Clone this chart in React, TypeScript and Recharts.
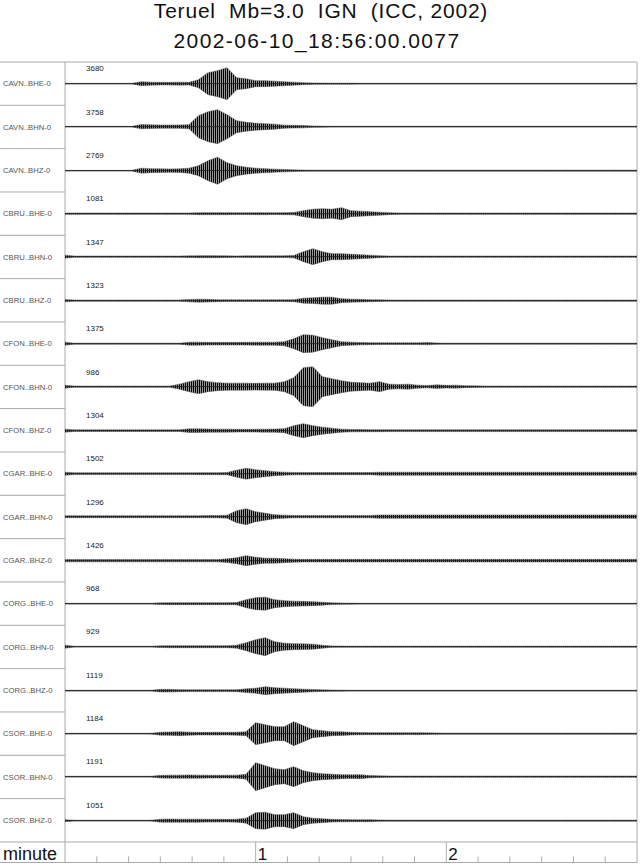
import React from "react";
import { Area, ComposedChart, ReferenceLine, XAxis, YAxis } from "recharts";

// time grid in seconds (3 s step)
const seconds = [
  0, 3, 6, 9, 12, 15, 18, 21, 24, 27, 30, 33, 36, 39, 42, 45, 48, 51, 54, 57, 60,
  63, 66, 69, 72, 75, 78, 81, 84, 87, 90, 93, 96, 99, 102, 105, 108, 111, 114, 117, 120,
  123, 126, 129, 132, 135, 138, 141, 144, 147, 150, 153, 156, 159, 162, 165, 168, 171, 174, 177, 180,
];

const channels = [
  "CAVN..BHE-0", "CAVN..BHN-0", "CAVN..BHZ-0",
  "CBRU..BHE-0", "CBRU..BHN-0", "CBRU..BHZ-0",
  "CFON..BHE-0", "CFON..BHN-0", "CFON..BHZ-0",
  "CGAR..BHE-0", "CGAR..BHN-0", "CGAR..BHZ-0",
  "CORG..BHE-0", "CORG..BHN-0", "CORG..BHZ-0",
  "CSOR..BHE-0", "CSOR..BHN-0", "CSOR..BHZ-0",
];

const peakCounts = [3680, 3758, 2769, 1081, 1347, 1323, 1375, 986, 1304, 1502, 1296, 1426, 968, 929, 1119, 1184, 1191, 1051];

// envelope half-amplitude of each trace (px of a 43px row)
const cavnBhe = [
  0.3, 0.3, 0.3, 0.3, 0.3, 0.3, 0.3, 0.3, 2, 1.5,
  1.3, 1.3, 1.5, 1.3, 4, 11, 13, 16, 6, 5,
  3, 3, 2.5, 2, 1.5, 1, 0.7, 0.6, 0.5, 0.5,
  0.5, 0.4, 0.4, 0.4, 0.4, 0.4, 0.4, 0.4, 0.4, 0.4,
  0.4, 0.4, 0.4, 0.4, 0.4, 0.4, 0.4, 0.4, 0.4, 0.4,
  0.4, 0.4, 0.4, 0.4, 0.4, 0.4, 0.4, 0.4, 0.4, 0.4, 0.4,
];
const cavnBhn = [
  0.3, 0.3, 0.3, 0.3, 0.3, 0.3, 0.3, 0.3, 2.2, 1.8,
  1.6, 1.6, 1.7, 2, 11, 15, 17, 12, 6, 4.5,
  3.5, 3, 2.5, 1.5, 1.3, 1.2, 0.7, 0.5, 0.4, 0.4,
  0.4, 0.4, 0.4, 0.4, 0.4, 0.4, 0.4, 0.4, 0.4, 0.4,
  0.4, 0.4, 0.4, 0.4, 0.4, 0.4, 0.4, 0.4, 0.4, 0.4,
  0.4, 0.4, 0.4, 0.4, 0.4, 0.4, 0.4, 0.4, 0.4, 0.4, 0.4,
];
const cavnBhz = [
  0.3, 0.3, 0.3, 0.3, 0.3, 0.3, 0.3, 0.3, 2.5, 2,
  1.8, 1.7, 1.8, 2.5, 5, 10, 13.5, 8, 5, 3.5,
  2.5, 2, 1.5, 1.2, 0.8, 0.6, 0.5, 0.5, 0.5, 0.5,
  0.5, 0.5, 0.5, 0.5, 0.5, 0.5, 0.5, 0.5, 0.5, 0.5,
  0.5, 0.5, 0.5, 0.5, 0.5, 0.5, 0.5, 0.5, 0.5, 0.5,
  0.5, 0.5, 0.5, 0.5, 0.5, 0.5, 0.5, 0.5, 0.5, 0.5, 0.5,
];
const cbruBhe = [
  0.7, 0.7, 0.7, 0.7, 0.7, 0.7, 0.7, 0.7, 0.7, 0.7,
  0.7, 0.7, 0.7, 0.7, 1, 1, 1, 1, 0.9, 0.9,
  1, 1, 0.9, 1, 1.2, 3, 4.5, 5, 4.5, 6,
  3, 2.5, 2, 1.5, 1, 0.7, 0.7, 0.7, 0.7, 0.7,
  0.7, 0.7, 0.7, 0.7, 0.7, 0.7, 0.7, 0.7, 0.7, 0.7,
  0.7, 0.7, 0.7, 0.7, 0.7, 0.7, 0.7, 0.7, 0.7, 0.7, 0.7,
];
const cbruBhn = [
  1.5, 0.6, 0.6, 0.6, 0.6, 0.6, 0.6, 0.6, 0.6, 0.6,
  0.6, 0.6, 0.6, 0.8, 1, 1, 1, 0.8, 0.7, 0.8,
  0.8, 0.8, 0.8, 0.9, 1.2, 5, 8, 5, 3, 3,
  2.5, 2, 1.5, 1, 0.6, 0.6, 0.6, 0.6, 0.6, 0.6,
  0.6, 0.6, 0.6, 0.6, 0.6, 0.6, 0.6, 0.6, 0.6, 0.6,
  0.6, 0.6, 0.6, 0.6, 0.6, 0.6, 0.6, 0.6, 0.6, 0.6, 0.6,
];
const cbruBhz = [
  1.2, 0.6, 0.6, 0.6, 0.6, 0.6, 0.6, 0.6, 0.6, 0.6,
  0.6, 0.6, 0.6, 1.2, 1.5, 1.3, 1, 0.9, 0.8, 0.8,
  0.8, 0.8, 0.8, 0.9, 1, 2.5, 2.8, 3.5, 3.5, 2,
  1.5, 1.3, 1, 0.8, 0.6, 0.6, 0.6, 0.6, 0.6, 0.6,
  0.6, 0.6, 0.6, 0.6, 0.6, 0.6, 0.6, 0.6, 0.6, 0.6,
  0.6, 0.6, 0.6, 0.6, 0.6, 0.6, 0.6, 0.6, 0.6, 0.6, 0.6,
];
const cfonBhe = [
  1.5, 0.5, 0.5, 0.5, 0.5, 0.5, 0.5, 0.5, 0.5, 0.5,
  0.5, 0.5, 0.5, 1.5, 1.5, 1.3, 1.3, 1.3, 1.3, 1.4,
  1.5, 1.5, 1.5, 2, 5, 9, 8.5, 6, 4, 2,
  1.5, 1.2, 1, 0.9, 0.8, 0.8, 0.8, 0.8, 1.2, 0.7,
  0.5, 0.5, 0.5, 0.5, 0.5, 0.5, 0.5, 0.5, 0.5, 0.5,
  0.5, 0.5, 0.5, 0.5, 0.5, 0.5, 0.5, 0.5, 0.5, 0.5, 0.5,
];
const cfonBhn = [
  1.5, 0.6, 0.6, 0.6, 0.6, 0.6, 0.6, 0.6, 0.6, 0.6,
  0.6, 0.6, 2.5, 5, 7, 5, 4, 3.5, 3.5, 3.5,
  3.3, 3.5, 3.5, 5, 9, 19, 20, 10, 8, 6,
  4.5, 4, 3.5, 5, 2.5, 2.2, 2.5, 1.5, 1.2, 1.8,
  1.3, 1.5, 1, 0.8, 0.6, 0.6, 0.6, 0.6, 0.6, 0.6,
  0.6, 0.6, 0.6, 0.6, 0.6, 0.6, 0.6, 0.6, 0.6, 0.6, 0.6,
];
const cfonBhz = [
  1.5, 0.8, 0.8, 0.8, 0.8, 0.8, 0.8, 0.8, 0.8, 0.8,
  0.8, 0.8, 0.8, 1.8, 1.8, 1.6, 1.5, 1.5, 1.4, 1.3,
  1.4, 1.5, 1.6, 2, 5, 7, 5, 3.5, 2.5, 1.5,
  1.2, 1.1, 1, 1, 0.9, 0.9, 0.9, 0.9, 0.9, 0.9,
  0.9, 0.9, 0.9, 0.9, 0.9, 0.9, 0.9, 0.9, 0.9, 0.9,
  0.9, 0.9, 0.9, 0.9, 0.9, 0.9, 0.9, 0.9, 0.9, 0.9, 0.9,
];
const cgarBhe = [
  1.5, 0.9, 0.9, 0.9, 0.9, 0.9, 0.9, 0.9, 0.9, 0.9,
  0.9, 0.9, 0.9, 0.9, 1, 1, 1, 1.2, 3.5, 5.5,
  4, 3, 2, 1.5, 1.2, 1.2, 1.1, 1.1, 1.1, 1.1,
  1.1, 1.1, 1.1, 1.5, 1.5, 1.5, 1.5, 1.5, 1.5, 1.5,
  1.5, 1.5, 1.5, 1.5, 1.5, 1.5, 1.5, 1.5, 1.5, 1.5,
  1.5, 1.5, 1.5, 1.5, 1.5, 1.5, 1.5, 1.5, 1.5, 1.5, 1.5,
];
const cgarBhn = [
  1, 1, 1, 1, 1, 1, 1, 1, 1, 1,
  1, 1, 1, 1, 1, 1.1, 1.2, 1.5, 6, 8,
  5, 3.5, 2, 1.5, 1.2, 1.2, 1.2, 1.2, 1.2, 1.2,
  1.2, 1.2, 1.2, 1.7, 1.7, 1.7, 1.7, 1.7, 1.7, 1.7,
  1.7, 1.7, 1.7, 1.7, 1.7, 1.7, 1.7, 1.7, 1.7, 1.7,
  1.7, 1.7, 1.7, 1.7, 1.7, 1.7, 1.7, 1.7, 1.7, 1.7, 1.7,
];
const cgarBhz = [
  1.2, 1.2, 1.2, 1.2, 1.2, 1.2, 1.2, 1.2, 1.2, 1.2,
  1.2, 1.2, 1.2, 1.2, 1.2, 1.2, 1.2, 1.8, 3, 5,
  3.5, 2.5, 2.5, 2, 1.5, 1.3, 1.3, 1.3, 1.3, 1.3,
  1.3, 1.3, 1.3, 1.3, 1.3, 1.3, 1.3, 1.3, 1.3, 1.3,
  1.3, 1.3, 1.3, 1.3, 1.3, 1.3, 1.3, 1.3, 1.3, 1.3,
  1.3, 1.3, 1.3, 1.3, 1.3, 1.3, 1.3, 1.3, 1.3, 1.3, 1.3,
];
const corgBhe = [
  0.4, 0.4, 0.4, 0.4, 0.4, 0.4, 0.4, 0.4, 0.4, 0.4,
  0.8, 1, 1, 1, 1, 1, 1, 1, 1.2, 4,
  6, 6.5, 4, 3, 2.5, 2.3, 2, 1.5, 0.8, 0.6,
  0.5, 0.4, 0.4, 0.4, 0.4, 0.4, 0.4, 0.4, 0.4, 0.4,
  0.4, 0.4, 0.4, 0.4, 0.4, 0.4, 0.4, 0.4, 0.4, 0.4,
  0.4, 0.4, 0.4, 0.4, 0.4, 0.4, 0.4, 0.4, 0.4, 0.4, 0.4,
];
const corgBhn = [
  1.5, 0.4, 0.4, 0.4, 0.4, 0.4, 0.4, 0.4, 0.4, 0.4,
  0.8, 1, 1, 1, 1, 1, 1, 1, 1.5, 4,
  7, 9, 5, 3.5, 3, 2.8, 2.5, 1.5, 0.7, 0.6,
  0.5, 0.5, 0.5, 0.5, 0.5, 0.5, 0.5, 0.5, 0.5, 0.5,
  0.5, 0.5, 0.5, 0.5, 0.5, 0.5, 0.5, 0.5, 0.5, 0.5,
  0.5, 0.5, 0.5, 0.5, 0.5, 0.5, 0.5, 0.5, 0.5, 0.5, 0.5,
];
const corgBhz = [
  0.4, 0.4, 0.4, 0.4, 0.4, 0.4, 0.4, 0.4, 0.4, 0.4,
  1.3, 1.3, 1, 0.9, 0.9, 0.9, 0.9, 0.9, 1, 1.8,
  2.5, 4, 3, 2.5, 2, 1.5, 1.2, 0.8, 0.6, 0.5,
  0.4, 0.4, 0.4, 0.4, 0.4, 0.4, 0.4, 0.4, 0.4, 0.4,
  0.4, 0.4, 0.4, 0.4, 0.4, 0.4, 0.4, 0.4, 0.4, 0.4,
  0.4, 0.4, 0.4, 0.4, 0.4, 0.4, 0.4, 0.4, 0.4, 0.4, 0.4,
];
const csorBhe = [
  0.4, 0.4, 0.4, 0.4, 0.4, 0.4, 0.4, 0.4, 0.4, 0.4,
  1.5, 1.7, 2, 1.5, 1.3, 1.3, 1.4, 1.3, 1.5, 2,
  11, 9, 7, 7, 12, 8, 4, 3, 2, 1.8,
  1.3, 1.1, 1, 1, 1, 1, 0.9, 1, 0.8, 0.7,
  0.5, 0.5, 0.5, 0.5, 0.5, 0.5, 0.5, 0.5, 0.5, 0.5,
  0.5, 0.5, 0.5, 0.5, 0.5, 0.5, 0.5, 0.5, 0.5, 0.5, 0.5,
];
const csorBhn = [
  0.4, 0.4, 0.4, 0.4, 0.4, 0.4, 0.4, 0.4, 0.4, 0.4,
  1.3, 1.5, 1.5, 1.7, 1.5, 1.4, 1.4, 1.4, 1.5, 2.5,
  14, 11, 8, 7, 10, 6, 4, 3, 2.5, 2,
  1.8, 2, 1.2, 0.8, 0.7, 0.6, 0.6, 0.6, 0.6, 0.6,
  0.6, 0.6, 0.6, 0.6, 0.6, 0.6, 0.6, 0.6, 0.6, 0.6,
  0.6, 0.6, 0.6, 0.6, 0.6, 0.6, 0.6, 0.6, 0.6, 0.6, 0.6,
];
const csorBhz = [
  1, 0.4, 0.4, 0.4, 0.4, 0.4, 0.4, 0.4, 0.4, 0.4,
  1.5, 1.6, 1.5, 1.5, 1.5, 1.4, 1.4, 1.3, 1.5, 2.5,
  8, 8.5, 6, 6, 8, 4, 2.5, 2, 1.3, 1.2,
  1, 1, 1, 0.7, 0.5, 0.5, 0.5, 0.5, 0.5, 0.5,
  0.5, 0.5, 0.5, 0.5, 0.5, 0.5, 0.5, 0.5, 0.5, 0.5,
  0.5, 0.5, 0.5, 0.5, 0.5, 0.5, 0.5, 0.5, 0.5, 0.5, 0.5,
];

const envelopes = [
  cavnBhe, cavnBhn, cavnBhz, cbruBhe, cbruBhn, cbruBhz,
  cfonBhe, cfonBhn, cfonBhz, cgarBhe, cgarBhn, cgarBhz,
  corgBhe, corgBhn, corgBhz, csorBhe, csorBhn, csorBhz,
];

const minorTicks = [10, 20, 30, 40, 50, 70, 80, 90, 100, 110, 130, 140, 150, 160, 170];
const majorTicks = [60, 120];
const majorLabels = ["1", "2"];

const TOP = 62;
const ROW_H = 43.33;
const PLOT_L = 65;
const PLOT_R = 637;
const PLOT_W = PLOT_R - PLOT_L;
const BAND_TOP = 842;
const BAND_H = 20.5;
const HALF = ROW_H / 2;
const FONT = '"Liberation Sans", Arial, Helvetica, sans-serif';
const FRAME = "#aaa";

function Trace({ env, top }: { env: number[]; top: number }) {
  const data = seconds.map((t, i) => ({ t, band: [-env[i], env[i]] }));
  return (
    <div style={{ position: "absolute", left: PLOT_L, top, width: PLOT_W, height: ROW_H }}>
      <ComposedChart width={PLOT_W} height={ROW_H} data={data} margin={{ top: 0, right: 0, bottom: 0, left: 0 }}>
        <XAxis type="number" dataKey="t" domain={[0, 180]} allowDataOverflow hide />
        <YAxis type="number" domain={[-HALF, HALF]} allowDataOverflow hide />
        <ReferenceLine y={0} stroke="#222" strokeWidth={0.9} />
        <Area
          type="linear"
          dataKey="band"
          stroke="#555"
          strokeWidth={0.5}
          fill="url(#wiggle)"
          fillOpacity={1}
          isAnimationActive={false}
        />
      </ComposedChart>
    </div>
  );
}

function TimeAxis() {
  const data = [...minorTicks, ...majorTicks].map((t) => ({ t }));
  return (
    <div style={{ position: "absolute", left: PLOT_L, top: BAND_TOP, width: PLOT_W, height: BAND_H }}>
      <ComposedChart width={PLOT_W} height={BAND_H} data={data} margin={{ top: 0, right: 0, bottom: 0, left: 0 }}>
        <XAxis type="number" dataKey="t" domain={[0, 180]} allowDataOverflow hide />
        <YAxis type="number" domain={[0, 1]} allowDataOverflow hide />
        {minorTicks.map((s) => (
          <ReferenceLine
            key={s}
            segment={[{ x: s, y: 0 }, { x: s, y: 0.3 }]}
            stroke="#999"
            strokeWidth={0.8}
          />
        ))}
        {majorTicks.map((s, i) => (
          <ReferenceLine
            key={s}
            x={s}
            stroke="#999"
            strokeWidth={0.8}
            label={(p: any) => (
              <text
                x={p.viewBox.x + 2}
                y={p.viewBox.y + p.viewBox.height - 3}
                fontSize={17}
                fontFamily={FONT}
                fill="#111"
              >
                {majorLabels[i]}
              </text>
            )}
          />
        ))}
      </ComposedChart>
    </div>
  );
}

export default function App() {
  return (
    <div style={{ position: "absolute", left: 0, top: 0, width: 640, height: 866, background: "#fff", fontFamily: FONT }}>
      <svg width={640} height={866} style={{ position: "absolute", left: 0, top: 0 }}>
        <defs>
          {/* dense vertical hatch that stands in for the oscillating trace inside the envelope */}
          <pattern id="wiggle" width={2} height={4} patternUnits="userSpaceOnUse">
            <rect x={0} y={0} width={1} height={4} fill="#000" />
            <rect x={1} y={0} width={1} height={4} fill="#999" />
          </pattern>
        </defs>
        <text x={321} y={18} textAnchor="middle" fontSize={21} letterSpacing={0.8} fill="#111" style={{ whiteSpace: "pre" }}>
          {"Teruel  Mb=3.0  IGN  (ICC, 2002)"}
        </text>
        <text x={317} y={48} textAnchor="middle" fontSize={21} letterSpacing={1.4} fill="#111">
          2002-06-10_18:56:00.0077
        </text>
        <line x1={0} y1={TOP} x2={PLOT_R} y2={TOP} stroke={FRAME} strokeWidth={1} />
        <line x1={PLOT_L} y1={TOP} x2={PLOT_L} y2={BAND_TOP + BAND_H} stroke={FRAME} strokeWidth={1} />
        <line x1={PLOT_R} y1={TOP} x2={PLOT_R} y2={BAND_TOP + BAND_H} stroke={FRAME} strokeWidth={1} />
        <line x1={0} y1={BAND_TOP} x2={PLOT_R} y2={BAND_TOP} stroke={FRAME} strokeWidth={1} />
        <line x1={0} y1={BAND_TOP + BAND_H} x2={PLOT_R} y2={BAND_TOP + BAND_H} stroke={FRAME} strokeWidth={1} />
        {channels.map((name, k) => {
          const rowTop = TOP + k * ROW_H;
          return (
            <g key={name}>
              {k > 0 && <line x1={0} y1={rowTop} x2={PLOT_L} y2={rowTop} stroke={FRAME} strokeWidth={1} />}
              <text x={3} y={rowTop + HALF + 2.8} fontSize={7.7} fill="#555">
                {name}
              </text>
              <text x={86} y={rowTop + 9.2} fontSize={8} fill="#222">
                {peakCounts[k]}
              </text>
            </g>
          );
        })}
        <text x={3} y={860} fontSize={18} fill="#111">
          minute
        </text>
      </svg>
      {envelopes.map((env, k) => (
        <Trace key={channels[k]} env={env} top={TOP + k * ROW_H} />
      ))}
      <TimeAxis />
    </div>
  );
}
